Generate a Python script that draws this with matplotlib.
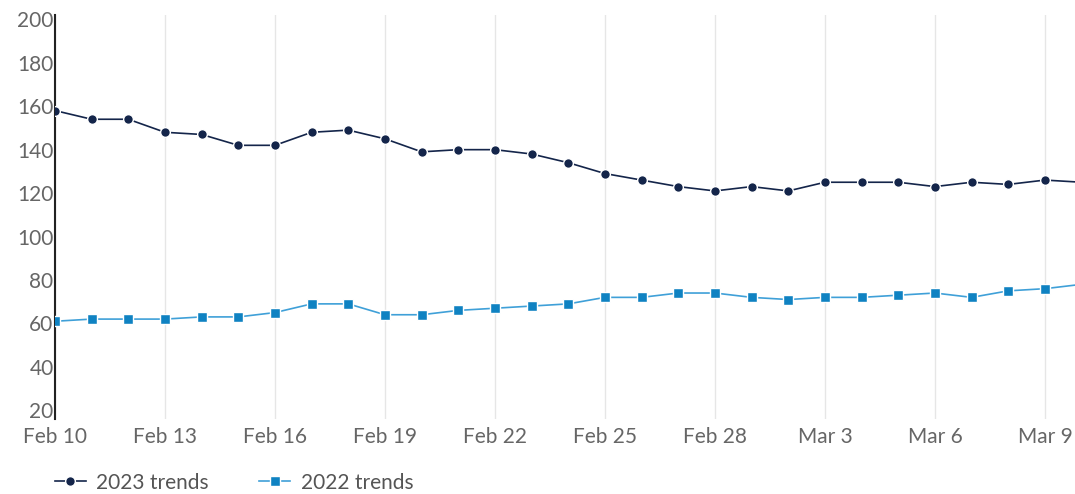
import matplotlib.pyplot as plt
import matplotlib.dates as mdates
import pandas as pd

plt.rcParams['font.family'] = ['Lato', 'DejaVu Sans']

# Daily dates Feb 10 -> Mar 10
dates = pd.date_range('2023-02-10', '2023-03-10', freq='D')

trends_2023 = [158, 154, 154, 148, 147, 142, 142, 148, 149, 145,
               139, 140, 140, 138, 134, 129, 126, 123, 121, 123,
               121, 125, 125, 125, 123, 125, 124, 126, 125]
trends_2022 = [61, 62, 62, 62, 63, 63, 65, 69, 69, 64,
               64, 66, 67, 68, 69, 72, 72, 74, 74, 72,
               71, 72, 72, 73, 74, 72, 75, 76, 78]

y_ticks = [20, 40, 60, 80, 100, 120, 140, 160, 180, 200]

fig = plt.figure(figsize=(10.75, 4.94), dpi=100)
ax = fig.add_axes([55 / 1075, 75 / 494, 1 - 55 / 1075, 404 / 494])

ax.plot(dates, trends_2023, color='#14254a', linewidth=1.2, marker='o',
        markersize=7, markeredgecolor='white', markeredgewidth=1.0,
        label='2023 trends', zorder=3)
ax.plot(dates, trends_2022, color='#3fa0d8', linewidth=1.2, marker='s',
        markersize=7, markerfacecolor='#0f82c2', markeredgecolor='white',
        markeredgewidth=1.0, label='2022 trends', zorder=3)

ax.set_ylim(16, 202)
ax.set_yticks(y_ticks)
start = mdates.date2num(dates[0])
ax.set_xlim(start, start + 27.82)
ax.set_xticks(dates[::3])
ax.xaxis.set_major_formatter(mdates.DateFormatter('%b %-d'))

ax.grid(axis='x', color='#e6e6e6', linewidth=1)
ax.grid(axis='y', visible=False)
ax.set_axisbelow(True)
for side in ['top', 'right', 'bottom']:
    ax.spines[side].set_visible(False)
ax.spines['left'].set_color('#222222')
ax.spines['left'].set_linewidth(1.5)
ax.tick_params(length=0, labelsize=15, labelcolor='#666666')
ax.tick_params(axis='y', pad=1)
ax.tick_params(axis='x', pad=6)

fig.legend(loc='lower left', bbox_to_anchor=(36 / 1075, -0.035), ncol=2,
           frameon=False, fontsize=15, handlelength=1.5, columnspacing=2.4,
           handletextpad=0.5, labelcolor='#555555')

plt.savefig('out.png', dpi=100)
